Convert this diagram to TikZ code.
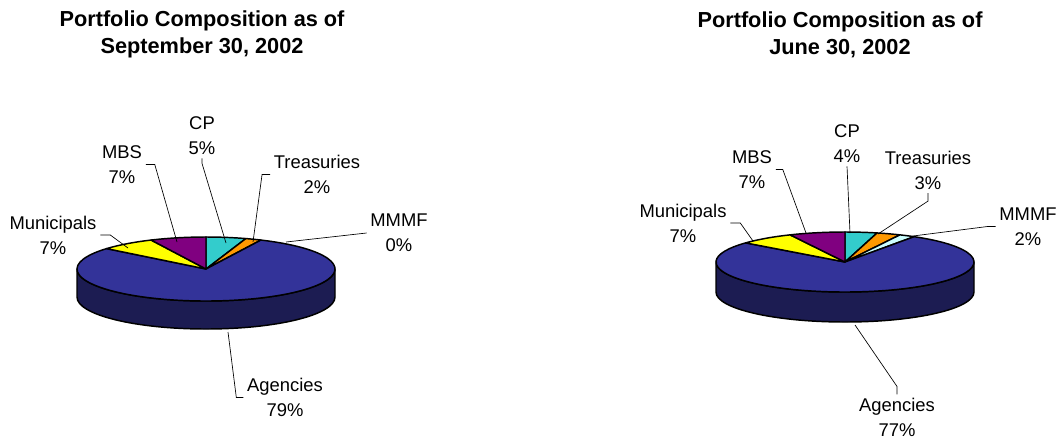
\documentclass[tikz,border=0pt]{standalone}
\usepackage{fontspec}
\setmainfont{Liberation Sans}
\usetikzlibrary{calc}

\definecolor{agencytop}{RGB}{51,51,153}
\definecolor{agencyside}{RGB}{28,28,82}
\definecolor{cpcol}{RGB}{51,204,204}
\definecolor{treascol}{RGB}{255,153,0}
\definecolor{mmmfcol}{RGB}{204,255,255}
\definecolor{municol}{RGB}{255,255,0}
\definecolor{mbscol}{RGB}{128,0,128}

\tikzset{every picture/.style={line width=0.75pt}}
\tikzset{
  slice/.style={draw=black, line width=1.1pt, line join=round},
  leader/.style={draw=black, line width=0.5pt},
  lbl/.style={font=\fontsize{13.8}{18.75}\selectfont, align=center, inner sep=2.5pt},
  ttl/.style={font=\bfseries\fontsize{16.3}{20.25}\selectfont, align=center},
  radL/.style={x radius=129, y radius=32},
  radR/.style={x radius=129, y radius=30}
}

\begin{document}
\begin{tikzpicture}[x=0.75pt,y=0.75pt,yscale=-1]

\useasboundingbox (0,0) rectangle (1059,440);

\node [ttl] (titleL) at (202,34.5) {Portfolio Composition as of\\September 30, 2002};
\node [ttl] (titleR) at (840,34.5) {Portfolio Composition as of\\June 30, 2002};

\coordinate (pieL) at (206,269);
\coordinate (pieR) at (845,262);

\filldraw [slice, fill=agencyside] ($(pieL)+(-129,0)$) -- ++(0,28) arc [radL, start angle=180, end angle=0] -- ++(0,-28) arc [radL, start angle=0, end angle=180] -- cycle ;
\filldraw [slice, fill=cpcol] (pieL) -- +(-90:129 and 32) arc [radL, start angle=-90, end angle=-72] -- cycle ;
\filldraw [slice, fill=treascol] (pieL) -- +(-72:129 and 32) arc [radL, start angle=-72, end angle=-64.8] -- cycle ;
\filldraw [slice, fill=agencytop] (pieL) -- +(-64.8:129 and 32) arc [radL, start angle=-64.8, end angle=219.6] -- cycle ;
\filldraw [slice, fill=municol] (pieL) -- +(219.6:129 and 32) arc [radL, start angle=219.6, end angle=244.8] -- cycle ;
\filldraw [slice, fill=mbscol] (pieL) -- +(244.8:129 and 32) arc [radL, start angle=244.8, end angle=270] -- cycle ;

\filldraw [slice, fill=agencyside] ($(pieR)+(-129,0)$) -- ++(0,30) arc [radR, start angle=180, end angle=0] -- ++(0,-30) arc [radR, start angle=0, end angle=180] -- cycle ;
\filldraw [slice, fill=cpcol] (pieR) -- +(-90:129 and 30) arc [radR, start angle=-90, end angle=-75.6] -- cycle ;
\filldraw [slice, fill=treascol] (pieR) -- +(-75.6:129 and 30) arc [radR, start angle=-75.6, end angle=-64.8] -- cycle ;
\filldraw [slice, fill=mmmfcol] (pieR) -- +(-64.8:129 and 30) arc [radR, start angle=-64.8, end angle=-57.6] -- cycle ;
\filldraw [slice, fill=agencytop] (pieR) -- +(-57.6:129 and 30) arc [radR, start angle=-57.6, end angle=219.6] -- cycle ;
\filldraw [slice, fill=municol] (pieR) -- +(219.6:129 and 30) arc [radR, start angle=219.6, end angle=244.8] -- cycle ;
\filldraw [slice, fill=mbscol] (pieR) -- +(244.8:129 and 30) arc [radR, start angle=244.8, end angle=270] -- cycle ;

\node [lbl] (cpL) at (202,135.5) {CP\\5\%};
\node [lbl] (trL) at (317,174.5) {Treasuries\\2\%};
\node [lbl] (mmL) at (399,233) {MMMF\\0\%};
\node [lbl] (mbL) at (122,164.5) {MBS\\7\%};
\node [lbl] (muL) at (53,235) {Municipals\\7\%};
\node [lbl] (agL) at (285,397.5) {Agencies\\79\%};

\node [lbl] (cpR) at (847,143.5) {CP\\4\%};
\node [lbl] (trR) at (928,170) {Treasuries\\3\%};
\node [lbl] (mmR) at (1028,226.5) {MMMF\\2\%};
\node [lbl] (mbR) at (752,169.5) {MBS\\7\%};
\node [lbl] (muR) at (683,223) {Municipals\\7\%};
\node [lbl] (agR) at (897,417.5) {Agencies\\77\%};

\coordinate (cpLend) at (226,243);
\coordinate (trLend) at (253,242);
\coordinate (mmLend) at (286,242);
\coordinate (mbLend) at (177,242);
\coordinate (muLend) at (128,248);
\coordinate (agLend) at (228,332);

\coordinate (cpRend) at (850,233);
\coordinate (trRend) at (878,234);
\coordinate (mmRend) at (913,236);
\coordinate (mbRend) at (806,233);
\coordinate (muRend) at (753,241);
\coordinate (agRend) at (855,325);

\draw [leader] (cpL.south) -- ++(0,5) -- (cpLend);
\draw [leader] (trL.west) -- ++(-8,0) -- (trLend);
\draw [leader] (mmL.west) -- (mmLend);
\draw [leader] (mbL.east) -- ++(9,0) -- (mbLend);
\draw [leader] (muL.east) -- ++(10,0) -- (muLend);
\draw [leader] (agL.west) -- ++(-7,0) -- (agLend);

\draw [leader] (cpR.south) -- (cpRend);
\draw [leader] (trR.south) -- ++(0,8) -- (trRend);
\draw [leader] (mmR.west) -- ++(-8,0) -- (mmRend);
\draw [leader] (mbR.east) -- ++(7,0) -- (mbRend);
\draw [leader] (muR.east) -- ++(10,0) -- (muRend);
\draw [leader] (agR.north) -- ++(0,-8) -- (agRend);

\end{tikzpicture}
\end{document}
